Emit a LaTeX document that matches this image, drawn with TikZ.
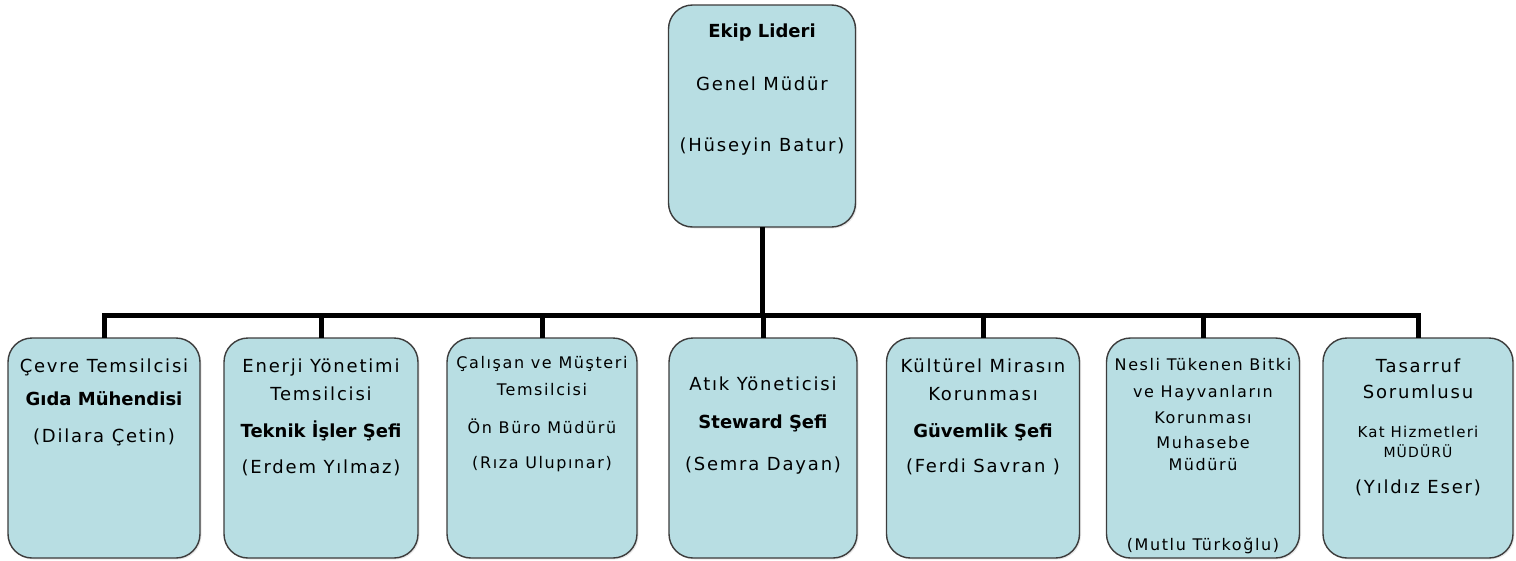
\documentclass[tikz,border=0pt]{standalone}
\usepackage{fontspec}
\usetikzlibrary{shadows}
\setmainfont{DejaVu Sans}
\newfontfamily\lbl{DejaVu Sans}[LetterSpace=10]
\newfontfamily\lbm{DejaVu Sans}[LetterSpace=8]
\newfontfamily\hd{DejaVu Sans}
\definecolor{boxfill}{RGB}{184,222,227}
\definecolor{boxline}{RGB}{60,60,60}
\tikzset{
  box/.style={draw=boxline, line width=1.4pt, fill=boxfill, rounded corners=24pt,
    minimum height=220pt, inner sep=0pt, outer sep=0pt,
    drop shadow={opacity=0.18, shadow xshift=1.5pt, shadow yshift=-1.5pt}},
  conn/.style={line width=5pt, black, line join=miter},
  txt/.style={anchor=base, inner sep=0pt, font=\lbl\fontsize{18}{21}\selectfont},
  stxt/.style={anchor=base, inner sep=0pt, font=\lbl\fontsize{16}{19}\selectfont},
  mtxt/.style={anchor=base, inner sep=0pt, font=\lbm\fontsize{15}{18}\selectfont},
  xstxt/.style={anchor=base, inner sep=0pt, font=\lbm\fontsize{14}{16}\selectfont},
  hdtxt/.style={anchor=base, inner sep=0pt, font=\hd\bfseries\fontsize{18}{21}\selectfont},
}
\begin{document}
\begin{tikzpicture}[x=1pt,y=-1pt]
\useasboundingbox (0,0) rectangle (1516,560);
% boxes
\node[box, minimum width=187pt, minimum height=222pt] (top) at (762,116) {};
\node[box, minimum width=192pt] (b1) at (104,448) {};
\node[box, minimum width=194pt] (b2) at (321,448) {};
\node[box, minimum width=190pt] (b3) at (542,448) {};
\node[box, minimum width=188pt] (b4) at (763,448) {};
\node[box, minimum width=193pt] (b5) at (983,448) {};
\node[box, minimum width=193pt] (b6) at (1203,448) {};
\node[box, minimum width=190pt] (b7) at (1418,448) {};
% connectors
\coordinate (bar) at (0,315);
\draw[conn] (top.south) -- (top.south |- bar);
\draw[conn] (b1.north) -- (b1.north |- bar) -- (b7.north |- bar) -- (b7.north);
\foreach \b in {b2,b3,b4,b5,b6}{
  \draw[conn] (\b.north) -- (\b.north |- bar);
}
% top text
\node[hdtxt] (t1) at (762,37) {Ekip Lideri};
\node[txt] (t2) at (762,90) {Genel Müdür};
\node[txt] (t3) at (762,151) {(Hüseyin Batur)};
% box 1
\node[txt] (a1) at (104,372) {Çevre Temsilcisi};
\node[hdtxt] (a2) at (104,405) {Gıda Mühendisi};
\node[txt] (a3) at (104,442) {(Dilara Çetin)};
% box 2
\node[txt] (c1) at (321,372) {Enerji Yönetimi};
\node[txt] (c2) at (321,400) {Temsilcisi};
\node[hdtxt] (c3) at (321,437) {Teknik İşler Şefi};
\node[txt] (c4) at (321,473) {(Erdem Yılmaz)};
% box 3
\node[stxt] (d1) at (542,368) {Çalışan ve Müşteri};
\node[stxt] (d2) at (542,395) {Temsilcisi};
\node[stxt] (d3) at (542,433) {Ön Büro Müdürü};
\node[stxt] (d4) at (542,468) {(Rıza Ulupınar)};
% box 4
\node[txt] (e1) at (763,390) {Atık Yöneticisi};
\node[hdtxt] (e2) at (763,428) {Steward Şefi};
\node[txt] (e3) at (763,470) {(Semra Dayan)};
% box 5
\node[txt] (f1) at (983,372) {Kültürel Mirasın};
\node[txt] (f2) at (983,400) {Korunması};
\node[hdtxt] (f3) at (983,437) {Güvemlik Şefi};
\node[txt] (f4) at (983,472) {(Ferdi Savran )};
% box 6
\node[stxt] (g1) at (1203,370) {Nesli Tükenen Bitki};
\node[stxt] (g2) at (1203,397) {ve Hayvanların};
\node[stxt] (g3) at (1203,423) {Korunması};
\node[stxt] (g4) at (1203,448) {Muhasebe};
\node[stxt] (g5) at (1203,470) {Müdürü};
\node[stxt] (g6) at (1203,550) {(Mutlu Türkoğlu)};
% box 7
\node[txt] (h1) at (1418,372) {Tasarruf};
\node[txt] (h2) at (1418,398) {Sorumlusu};
\node[mtxt] (h3) at (1418,437) {Kat Hizmetleri};
\node[xstxt] (h4) at (1418,457) {MÜDÜRÜ};
\node[txt] (h5) at (1418,493) {(Yıldız Eser)};
\end{tikzpicture}
\end{document}
